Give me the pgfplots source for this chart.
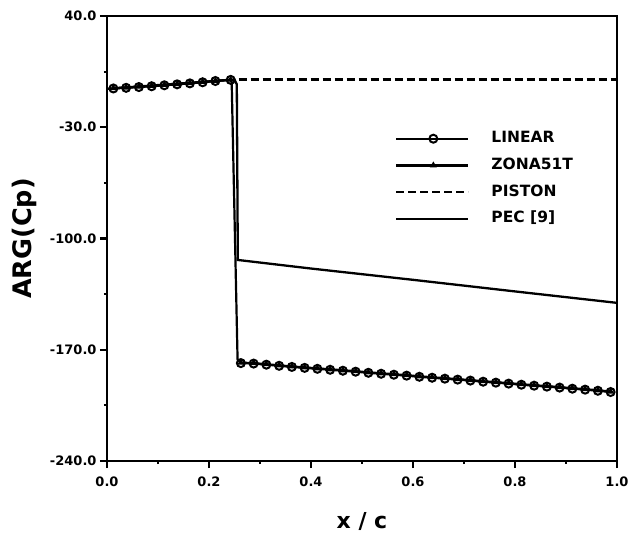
\documentclass[border=0pt]{standalone}
\usepackage{fontspec}
\setmainfont{DejaVu Sans}
\usepackage{pgfplots}
\usepackage{pgfplotstable}
\pgfplotsset{compat=1.18}

% Phase of the pressure coefficient along the chord
% (a nan row separates the panels ahead of and behind the hinge line)
\pgfplotstableread{
x       y
0.0125  -5.6
0.0375  -5.2
0.0625  -4.7
0.0875  -4.2
0.1125  -3.6
0.1375  -3.0
0.1625  -2.4
0.1875  -1.7
0.2125  -0.9
0.2425  -0.2
nan     nan
0.2625  -178.4
0.2875  -178.7
0.3125  -179.4
0.3375  -180.1
0.3625  -180.8
0.3875  -181.4
0.4125  -182.0
0.4375  -182.6
0.4625  -183.2
0.4875  -183.8
0.5125  -184.5
0.5375  -185.1
0.5625  -185.7
0.5875  -186.3
0.6125  -187.0
0.6375  -187.6
0.6625  -188.2
0.6875  -188.8
0.7125  -189.4
0.7375  -190.1
0.7625  -190.7
0.7875  -191.3
0.8125  -192.0
0.8375  -192.6
0.8625  -193.2
0.8875  -193.8
0.9125  -194.5
0.9375  -195.1
0.9625  -195.8
0.9875  -196.6
}\linear

\pgfplotstableread{
x       y
0.0125  -5.4
0.0375  -5.0
0.0625  -4.5
0.0875  -4.0
0.1125  -3.4
0.1375  -2.8
0.1625  -2.2
0.1875  -1.5
0.2125  -0.8
0.2425  -0.1
nan     nan
0.2625  -178.1
0.2875  -178.4
0.3125  -179.1
0.3375  -179.8
0.3625  -180.5
0.3875  -181.1
0.4125  -181.7
0.4375  -182.3
0.4625  -182.9
0.4875  -183.5
0.5125  -184.2
0.5375  -184.8
0.5625  -185.4
0.5875  -186.0
0.6125  -186.7
0.6375  -187.3
0.6625  -187.9
0.6875  -188.5
0.7125  -189.1
0.7375  -189.8
0.7625  -190.4
0.7875  -191.0
0.8125  -191.7
0.8375  -192.3
0.8625  -192.9
0.8875  -193.5
0.9125  -194.2
0.9375  -194.8
0.9625  -195.5
0.9875  -196.3
}\zona

% drop across the hinge line
\pgfplotstableread{
x       y
0.2425  -0.2
0.2445  -2.0
0.2560  -176.0
0.2625  -178.4
}\hinge

\pgfplotstableread{
x      y
0.258  0
1.0    0
}\piston

\pgfplotstableread{
x      y
0.0    -5.8
0.25   0.0
0.2545 -3.0
0.2565 -113.5
0.40   -118.9
0.60   -126.0
0.80   -133.3
1.0    -140.5
}\pec

\begin{document}
\begin{tikzpicture}
\useasboundingbox (-107bp,-72bp) rectangle (535bp,461bp);
\begin{axis}[
  at={(0,0)}, anchor=south west,
  scale only axis, width=510bp, height=445bp,
  xmin=0, xmax=1, ymin=-240, ymax=40,
  unbounded coords=jump,
  xtick={0,0.2,0.4,0.6,0.8,1.0},
  ytick={40,-30,-100,-170,-240},
  minor xtick={0.1,0.3,0.5,0.7,0.9},
  minor ytick={5,-65,-135,-205},
  xtick pos=left, ytick pos=left,
  tick align=outside,
  major tick length=7bp, minor tick length=3bp,
  every tick/.style={black, line width=2.2bp},
  axis line style={line width=2.4bp},
  /pgf/number format/assume math mode=true,
  tick label style={font=\fontsize{13bp}{15bp}\selectfont\bfseries},
  xticklabel style={yshift=-5bp,
    /pgf/number format/.cd, fixed, fixed zerofill, precision=1},
  yticklabel style={/pgf/number format/.cd, fixed, fixed zerofill, precision=1},
  xlabel={x / c},
  ylabel={ARG(Cp)},
  xlabel style={font=\fontsize{22bp}{26bp}\selectfont\bfseries,
    at={(axis description cs:0.5,0)}, anchor=base, yshift=-67bp, inner sep=0pt},
  ylabel style={font=\fontsize{25.5bp}{30bp}\selectfont\bfseries,
    at={(axis description cs:-0.1863,0.5)}, anchor=north, inner sep=0pt},
  legend style={at={(0.5647,0.7393)}, anchor=north west, draw=none, fill=none,
    inner sep=0pt, row sep=13.7bp,
    font=\fontsize{15.5bp}{18bp}\selectfont\bfseries,
    nodes={inner sep=0pt, text height=10.5bp, text depth=2.5bp},
    /tikz/every odd column/.append style={column sep=22bp}},
  legend cell align=left,
  legend image code/.code={\draw[mark repeat=2, mark phase=2, #1]
    plot coordinates {(0bp,0bp) (37bp,0bp) (72bp,0bp)};},
]
\addplot[black, line width=2.2bp, mark=o, mark size=4bp,
  mark options={solid, line width=2bp}] table {\linear};
\addlegendentry{LINEAR}
\addplot[black, line width=2.2bp, mark=triangle*, mark size=1.8bp,
  mark options={solid}] table {\zona};
\addlegendentry{ZONA51T}
\addplot[black, line width=2.2bp, dash pattern=on 8bp off 4bp] table {\piston};
\addlegendentry{PISTON}
\addplot[black, line width=2.3bp] table {\pec};
\addlegendentry{PEC [9]}
\addplot[black, line width=2.2bp, forget plot] table {\hinge};
\end{axis}
\end{tikzpicture}
\end{document}
